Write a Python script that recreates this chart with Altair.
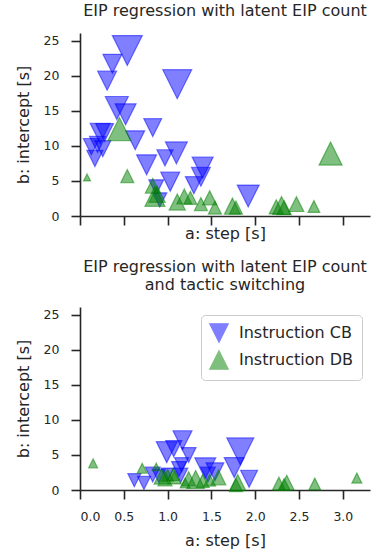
import altair as alt
import pandas as pd

# ---- panel 1: EIP regression with latent EIP count ----
p1_cb_step = [0.54, 0.37, 0.31, 1.11, 0.42, 0.52, 0.83, 0.23, 0.28, 0.13, 0.20, 0.26,
              0.17, 0.63, 0.76, 0.97, 1.10, 1.03, 0.87, 0.91, 1.40, 1.38, 1.30, 1.92]
p1_cb_icpt = [23.6, 21.7, 19.3, 18.8, 15.4, 14.5, 12.6, 11.8, 11.9, 9.9, 10.2, 9.6,
              8.2, 10.8, 7.3, 8.3, 9.0, 4.9, 4.1, 2.3, 6.9, 5.6, 4.4, 2.85]
p1_cb_n = [90, 36, 36, 84, 53, 44, 32, 40, 32, 26, 26, 26,
           26, 36, 40, 26, 48, 36, 22, 20, 44, 36, 29, 48]

p1_db_step = [0.45, 0.08, 0.54, 0.83, 0.855, 0.88, 1.11, 1.19, 1.26, 1.38, 1.48, 1.54,
              1.74, 1.78, 2.24, 2.30, 2.33, 2.47, 2.67, 2.86]
p1_db_icpt = [12.4, 5.5, 5.7, 4.3, 2.8, 3.1, 2.0, 2.8, 2.6, 1.7, 2.6, 1.2,
              1.4, 1.2, 1.3, 1.5, 1.2, 1.7, 1.35, 8.9]
p1_db_n = [53, 5, 17, 22, 40, 26, 26, 22, 17, 17, 20, 17,
           26, 17, 20, 32, 20, 22, 14, 53]

# ---- panel 2: ... and tactic switching ----
p2_cb_step = [0.62, 0.73, 0.83, 0.90, 0.99, 1.07, 1.17, 1.24, 1.13, 1.15, 1.00, 1.43,
              1.46, 1.54, 1.83, 1.76, 1.93, 1.16]
p2_cb_icpt = [1.4, 1.0, 2.2, 2.0, 5.4, 5.9, 7.1, 5.0, 3.0, 2.1, 2.2, 3.1,
              2.2, 2.6, 5.5, 3.2, 1.6, 3.6]
p2_cb_n = [17, 17, 22, 17, 44, 26, 36, 22, 22, 20, 17, 44,
           22, 32, 73, 40, 29, 20]

p2_db_step = [0.15, 0.71, 0.87, 0.93, 0.97, 1.00, 1.06, 1.08, 1.20, 1.24, 1.32, 1.40,
              1.48, 1.58, 1.80, 1.78, 2.27, 2.36, 2.33, 2.68, 3.16]
p2_db_icpt = [3.8, 3.1, 3.3, 1.9, 1.6, 2.1, 2.2, 1.8, 1.0, 1.6, 1.5, 1.3,
              1.4, 1.8, 1.05, 0.7, 0.9, 1.05, 0.8, 0.85, 1.7]
p2_db_n = [8, 10, 6, 22, 20, 14, 14, 17, 10, 20, 32, 17,
           14, 22, 26, 17, 17, 22, 14, 14, 10]

groups = ["Instruction CB", "Instruction DB"]
colors = ["#0000ff", "#008000"]
# triangle-down for CB, triangle-up for DB (unit box -1..1)
shapes = ["M0,1L-1,-1L1,-1Z", "M0,-1L-1,1L1,1Z"]
x_ticks = [0.0, 0.5, 1.0, 1.5, 2.0, 2.5, 3.0]
y_ticks = [0, 5, 10, 15, 20, 25]

FONT = "DejaVu Sans"
INK = "#262626"


def frame(cb_step, cb_icpt, cb_n, db_step, db_icpt, db_n):
    rows = []
    for s, b, n in zip(cb_step, cb_icpt, cb_n):
        rows.append({"step": s, "intercept": b, "n": n, "group": groups[0]})
    for s, b, n in zip(db_step, db_icpt, db_n):
        rows.append({"step": s, "intercept": b, "n": n, "group": groups[1]})
    df = pd.DataFrame(rows)
    df["k"] = range(len(df))
    return df


def panel(df, title, tick_labels, legend):
    color_scale = alt.Scale(domain=groups, range=colors)
    shape_scale = alt.Scale(domain=groups, range=shapes)
    if legend:
        leg = alt.Legend(
            title=None, orient="top-right", offset=8, padding=8,
            fillColor="rgba(255,255,255,0.8)", strokeColor="#cccccc",
            cornerRadius=4, labelFont=FONT, labelFontSize=16, labelColor=INK,
            symbolSize=340, symbolOpacity=0.5, symbolStrokeWidth=1.2,
            rowPadding=3, labelOffset=10,
        )
        color = alt.Color("group:N", scale=color_scale, legend=leg)
        shape = alt.Shape("group:N", scale=shape_scale, legend=leg)
        stroke = alt.Stroke("group:N", scale=color_scale, legend=leg)
    else:
        color = alt.Color("group:N", scale=color_scale, legend=None)
        shape = alt.Shape("group:N", scale=shape_scale, legend=None)
        stroke = alt.Stroke("group:N", scale=color_scale, legend=None)

    if tick_labels:
        x_axis = alt.Axis(title="a: step [s]", values=x_ticks, format=".1f", grid=False,
                          labelPadding=11, titlePadding=10)
    else:
        x_axis = alt.Axis(title="a: step [s]", values=x_ticks, labels=False, grid=False,
                          titlePadding=0)

    return alt.Chart(df).mark_point(
        filled=True, fillOpacity=0.5, strokeOpacity=0.5, strokeWidth=1.2
    ).encode(
        x=alt.X("step:Q", scale=alt.Scale(domain=[0, 3.31], nice=False, zero=False),
                axis=x_axis),
        y=alt.Y("intercept:Q", scale=alt.Scale(domain=[0, 26.1], nice=False),
                axis=alt.Axis(title="b: intercept [s]", values=y_ticks, grid=False,
                              labelPadding=12, titlePadding=12)),
        color=color,
        shape=shape,
        stroke=stroke,
        size=alt.Size("n:Q", scale=alt.Scale(domain=[0, 100], range=[0, 1000]), legend=None),
        order=alt.Order("k:Q"),
    ).properties(
        width=290, height=183,
        title=alt.TitleParams(title, fontSize=16, font=FONT, fontWeight="normal",
                              color=INK, anchor="middle", offset=14, lineHeight=18),
    )


top = panel(frame(p1_cb_step, p1_cb_icpt, p1_cb_n, p1_db_step, p1_db_icpt, p1_db_n),
            "EIP regression with latent EIP count", False, False)
bottom = panel(frame(p2_cb_step, p2_cb_icpt, p2_cb_n, p2_db_step, p2_db_icpt, p2_db_n),
               ["EIP regression with latent EIP count", "and tactic switching"], True, True)

chart = alt.vconcat(top, bottom, spacing=17).resolve_scale(
    color="independent", shape="independent", stroke="independent", size="independent"
).resolve_legend(
    color="independent", shape="independent", stroke="independent", size="independent"
).properties(
    padding={"left": 15, "top": 3, "right": 5, "bottom": 0}
).configure_view(stroke=None).configure_axis(
    domainColor=INK, domainWidth=1.6, tickColor=INK, tickWidth=1.6, tickSize=9,
    labelFont=FONT, labelFontSize=12.5, labelColor=INK,
    titleFont=FONT, titleFontSize=16, titleFontWeight="normal", titleColor=INK,
)

chart.save("out.html", embed_options={"renderer": "svg", "actions": False})
